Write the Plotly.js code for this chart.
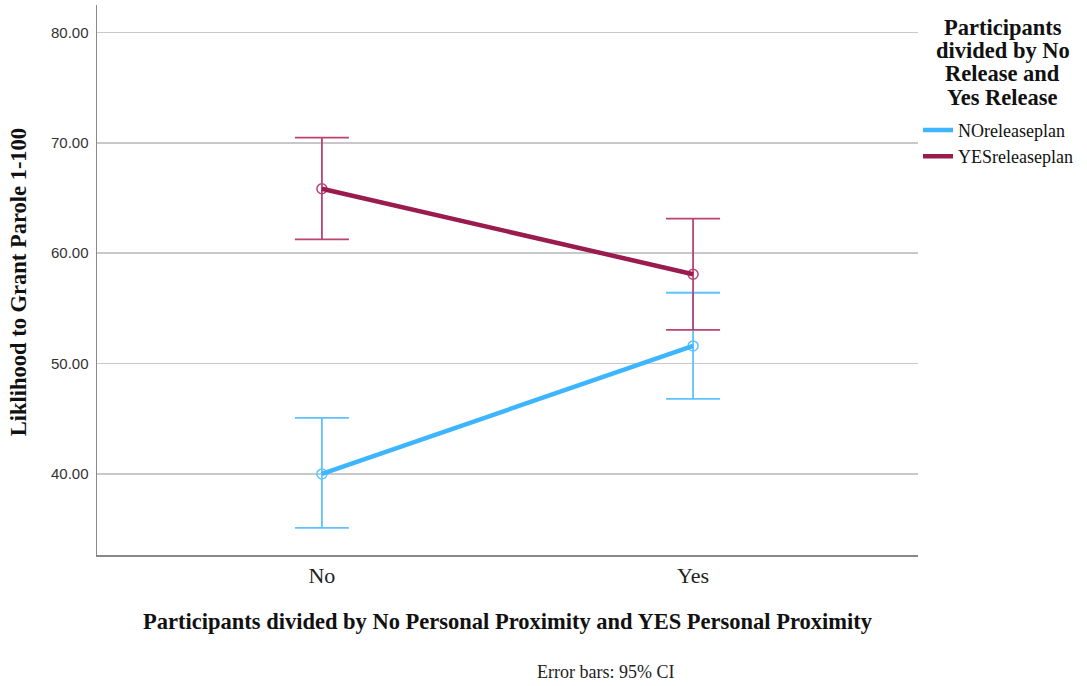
<!DOCTYPE html>
<html>
<head>
<meta charset="utf-8">
<script src="https://cdn.plot.ly/plotly-3.0.1.min.js"></script>
<style>html,body{margin:0;padding:0;background:#fff;}#chart{width:1087px;height:686px;}</style>
</head>
<body>
<div id="chart"></div>
<script>
var categories = ["No", "Yes"];
var seriesNames = ["NOreleaseplan", "YESreleaseplan"];
var noMean = [40.0, 51.6];
var noUpper = [45.08, 56.42];
var noLower = [35.1, 46.8];
var yesMean = [65.85, 58.1];
var yesUpper = [70.48, 63.13];
var yesLower = [61.25, 53.06];
var yTicks = [40, 50, 60, 70, 80];
var yTickLabels = ["40.00", "50.00", "60.00", "70.00", "80.00"];
var legendTitleLines = ["Participants", "divided by No", "Release and", "Yes Release"];
var yTitle = "Liklihood to Grant Parole 1-100";

function diff(a, b) { return a.map(function (v, i) { return v - b[i]; }); }

var lineColors = ["#3DB5FF", "#9A1B4D"];
var errColors = ["#5EC2FF", "#B94474"];
var xIdx = [0, 1];

var serif = "Liberation Serif, Times New Roman, serif";
var sans = "Liberation Sans, Arial, sans-serif";

var means = [noMean, yesMean], uppers = [noUpper, yesUpper], lowers = [noLower, yesLower];
var traces = [];
for (var s = 0; s < 2; s++) {
  traces.push({
    x: xIdx, y: means[s], type: "scatter", mode: "markers",
    showlegend: false, hoverinfo: "skip",
    marker: { symbol: "circle-open", size: 10, color: errColors[s], line: { width: 1.5, color: errColors[s] } },
    error_y: { type: "data", symmetric: false, array: diff(uppers[s], means[s]), arrayminus: diff(means[s], lowers[s]),
      color: errColors[s], thickness: 1.8, width: 27 }
  });
}
for (var s2 = 0; s2 < 2; s2++) {
  traces.push({
    x: xIdx, y: means[s2], type: "scatter", mode: "lines", name: seriesNames[s2],
    line: { color: lineColors[s2], width: 4.5 }
  });
}

var annotations = [{
  text: "Error bars: 95% CI", xref: "paper", yref: "paper", x: 0.619, y: -0.213,
  xanchor: "center", yanchor: "middle", showarrow: false,
  font: { family: serif, size: 18, color: "#222" }
}, {
  text: "<b>" + yTitle + "</b>", xref: "paper", yref: "paper", x: -0.0962, y: 0.496,
  xanchor: "center", yanchor: "middle", textangle: -90, showarrow: false,
  font: { family: serif, size: 22.5, color: "#111" }
}];
legendTitleLines.forEach(function (t, i) {
  annotations.push({
    text: "<b>" + t + "</b>", xref: "paper", yref: "paper", x: 1.1035, y: 0.960 - i * 0.0427,
    xanchor: "center", yanchor: "middle", showarrow: false,
    font: { family: serif, size: 22.5, color: "#111" }
  });
});

var layout = {
  width: 1087, height: 686,
  margin: { l: 97, r: 169, t: 5, b: 131, autoexpand: false },
  paper_bgcolor: "#fff", plot_bgcolor: "#fff",
  showlegend: true,
  xaxis: {
    range: [-0.606, 1.606], tickvals: xIdx, ticktext: categories,
    showgrid: false, zeroline: false, showline: true, linecolor: "#888", linewidth: 1.5,
    ticks: "", ticklabelstandoff: 0, tickfont: { family: serif, size: 22, color: "#222" },
    title: { text: "<b>Participants divided by No Personal Proximity and YES Personal Proximity</b>",
      font: { family: serif, size: 22.5, color: "#111" }, standoff: 26 }
  },
  yaxis: {
    range: [32.65, 82.5], tickvals: yTicks, ticktext: yTickLabels,
    showgrid: true, gridcolor: "#c8c8c8", gridwidth: 1.5, zeroline: false,
    showline: true, linecolor: "#888", linewidth: 1.5, ticks: "", ticklabelstandoff: 4,
    tickfont: { family: sans, size: 15, color: "#333" }
  },
  legend: {
    x: 1.0, xanchor: "left", y: 0.806, yanchor: "top",
    font: { family: serif, size: 18, color: "#111" },
    itemwidth: 30, tracegroupgap: 0, bgcolor: "rgba(0,0,0,0)"
  },
  annotations: annotations
};
Plotly.newPlot("chart", traces, layout, { displayModeBar: false, staticPlot: true });
</script>
</body>
</html>
